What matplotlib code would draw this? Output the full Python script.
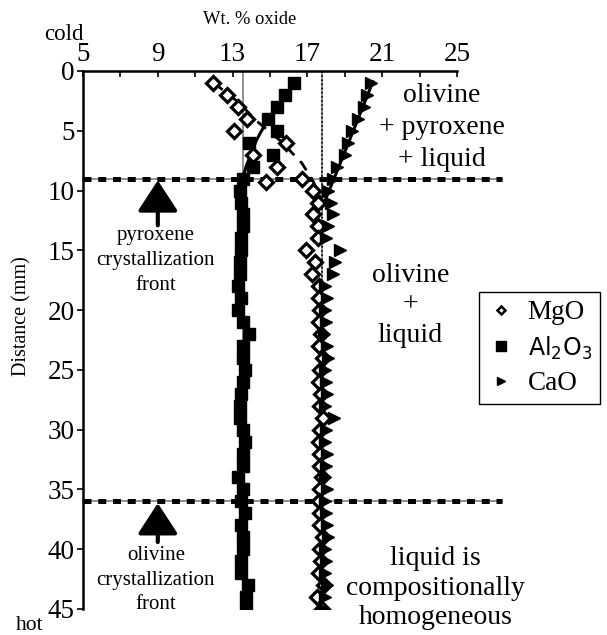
import matplotlib.pyplot as plt
from matplotlib.lines import Line2D
import numpy as np

plt.rcParams['font.family'] = ['Liberation Serif', 'DejaVu Serif']

# MgO (open diamonds): distance (mm) and wt. %
mgo_y = [1, 2, 3, 4, 5, 6, 7, 8, 9.3, 9, 10, 11, 12, 13, 14, 15, 16, 17, 18, 19,
         20, 21, 22, 23, 24, 25, 26, 27, 28, 29, 30, 31, 32, 33, 34, 35, 36, 37,
         38, 39, 40, 41, 42, 43, 44, 45]
mgo_x = [11.95, 12.7, 13.3, 13.75, 13.1, 15.85, 14.1, 15.4, 14.8, 16.7, 17.3, 17.55,
         17.3, 17.55, 17.55, 16.95, 17.4, 17.25, 17.6, 17.6, 17.7, 17.6, 17.75, 17.6,
         17.85, 17.7, 17.6, 17.75, 17.65, 17.85, 17.7, 17.6, 17.7, 17.65, 17.8, 17.7,
         17.6, 17.7, 17.65, 17.85, 17.7, 17.75, 17.6, 17.9, 17.5, 17.8]

# Al2O3 (filled squares)
al_y = list(range(1, 46))
al_x = [16.3, 15.8, 15.4, 14.9, 15.4, 13.9, 15.15, 14.1, 13.55, 13.38, 13.47, 13.56,
        13.56, 13.47, 13.47, 13.38, 13.38, 13.3, 13.47, 13.3, 13.56, 13.9, 13.56,
        13.56, 13.65, 13.56, 13.47, 13.38, 13.38, 13.56, 13.65, 13.56, 13.56, 13.3,
        13.56, 13.47, 13.65, 13.47, 13.56, 13.56, 13.47, 13.47, 13.83, 13.74, 13.74]

# CaO (filled right triangles)
cao_y = list(range(1, 46))
cao_x = [20.4, 20.2, 20.05, 19.7, 19.4, 19.15, 19.0, 18.6, 18.35, 18.1, 18.28, 18.35,
         18.1, 18.0, 18.72, 18.45, 18.35, 17.95, 18.05, 17.95, 18.0, 17.9, 18.05, 18.1,
         17.95, 18.0, 18.05, 17.95, 18.4, 18.0, 17.95, 18.05, 18.0, 17.95, 18.05, 17.95,
         18.0, 18.05, 18.1, 17.95, 18.0, 17.95, 18.05, 17.95, 17.85]

# trend lines in the crystallization zone
mgo_fit_x = [12.0, 13.3, 14.3, 15.6, 16.7, 17.3, 17.75]
mgo_fit_y = [1.0, 2.6, 4.2, 5.9, 7.7, 9.2, 10.8]
al_fit_x = [16.3, 14.9, 14.27, 13.74, 13.5]
al_fit_y = [1.0, 4.0, 5.8, 7.9, 9.2]
cao_fit_x = [20.5, 19.2, 17.85]
cao_fit_y = [0.9, 6.0, 11.2]

# reference compositions and crystallization fronts
ref_al = 13.55
ref_mgo_cao = 17.8
fronts = [9, 36]

fig = plt.figure(figsize=(6.07, 6.35), dpi=100)
ax = fig.add_axes([83 / 607, 1 - 609 / 635, 374 / 607, 538 / 635])
ax.set_xlim(5, 25)
ax.set_ylim(45, 0)

# vertical reference lines
ax.plot([ref_al, ref_al], [0, 45], color='#888888', lw=1.3, zorder=1)
ax.plot([ref_mgo_cao, ref_mgo_cao], [0, 45], color='#888888', lw=1.3, zorder=1)
ax.plot([ref_mgo_cao, ref_mgo_cao], [0, 45], color='k', lw=1.2, ls=(0, (1, 1.5)), zorder=1)

# fronts: thin grey line under a thick square dash
for f in fronts:
    ax.plot([5, 27.4], [f, f], color='#808080', lw=1.2, clip_on=False, zorder=2)
    ax.plot([5, 27.4], [f, f], color='k', lw=3.6, ls=(0, (1.6, 1.35)),
            dash_capstyle='butt', clip_on=False, zorder=2)

# trend lines
ax.plot(mgo_fit_x, mgo_fit_y, color='k', lw=2, ls=(0, (4, 3)), zorder=3)
ax.plot(al_fit_x, al_fit_y, color='k', lw=2.2, zorder=3)
ax.plot(cao_fit_x, cao_fit_y, color='k', lw=2.2, zorder=3)

# data
ax.plot(al_x, al_y, ls='none', marker='s', ms=8.6, color='k', zorder=4)
ax.plot(mgo_x, mgo_y, ls='none', marker='D', ms=7, mfc='white', mec='k', mew=2.3, zorder=5)
ax.plot(cao_x, cao_y, ls='none', marker='>', ms=8, color='k', zorder=6)

# axes styling
ax.spines['right'].set_visible(False)
ax.spines['bottom'].set_visible(False)
ax.spines['top'].set_linewidth(1.8)
ax.spines['left'].set_linewidth(1.8)
ax.xaxis.tick_top()
ax.set_xticks([5, 9, 13, 17, 21, 25])
ax.set_xticks(np.arange(7, 25, 4), minor=True)
ax.set_yticks(np.arange(0, 46, 5))
ax.tick_params(axis='x', which='both', direction='in', length=4, width=1.2,
               labelsize=19.5, pad=3)
ax.tick_params(axis='y', direction='out', length=4, width=1.2, labelsize=19.5, pad=2)

fig.text(250 / 607, 1 - 20 / 635, 'Wt. % oxide', fontsize=13.3, ha='center', va='center')
fig.text(64 / 607, 1 - 34 / 635, 'cold', fontsize=16.5, ha='center', va='center')
fig.text(30 / 607, 1 - 626 / 635, 'hot', fontsize=15.5, ha='center', va='center')
fig.text(22 / 607, 1 - 316 / 635, 'Distance (mm)', fontsize=14.5, rotation=90,
         ha='center', va='center')

# zone labels
ax.text(24.2, 4.7, 'olivine\n+ pyroxene\n+ liquid', fontsize=20, ha='center',
        va='center', linespacing=1.36, clip_on=False)
ax.text(22.5, 19.6, 'olivine\n+\nliquid', fontsize=20, ha='center', va='center',
        linespacing=1.27, clip_on=False)
ax.text(23.85, 43.25, 'liquid is\ncompositionally\nhomogeneous', fontsize=20,
        ha='center', va='center', linespacing=1.25, clip_on=False)

# crystallization fronts
arrow = dict(arrowstyle='-|>,head_length=0.95,head_width=0.62', color='k', lw=3,
             mutation_scale=20, shrinkA=0, shrinkB=0)
ax.annotate('', xy=(9, 9.15), xytext=(9, 12.9), arrowprops=arrow)
ax.annotate('', xy=(9, 36.15), xytext=(9, 39.4), arrowprops=arrow)
ax.text(8.9, 15.85, 'pyroxene\ncrystallization\nfront', fontsize=15, ha='center',
        va='center', linespacing=1.45)
ax.text(8.9, 42.6, 'olivine\ncrystallization\nfront', fontsize=15, ha='center',
        va='center', linespacing=1.4)

# legend
handles = [
    Line2D([], [], ls='none', marker='D', ms=4.5, mfc='white', mec='k', mew=1.8),
    Line2D([], [], ls='none', marker='s', ms=6.5, color='k'),
    Line2D([], [], ls='none', marker='>', ms=6, color='k'),
]
leg = fig.legend(handles, ['MgO', 'Al$_2$O$_3$', 'CaO'], loc='upper left',
                 bbox_to_anchor=(479 / 607, 1 - 292 / 635), fontsize=19.5,
                 frameon=True, fancybox=False, edgecolor='k', framealpha=1,
                 handlelength=1.0, handletextpad=0.5, borderpad=0.3,
                 labelspacing=0.35, borderaxespad=0)
leg.get_frame().set_linewidth(1.0)
leg.get_texts()[1].set_fontfamily('DejaVu Sans')
leg.get_texts()[1].set_fontsize(17)

fig.savefig('out.png', dpi=100)
